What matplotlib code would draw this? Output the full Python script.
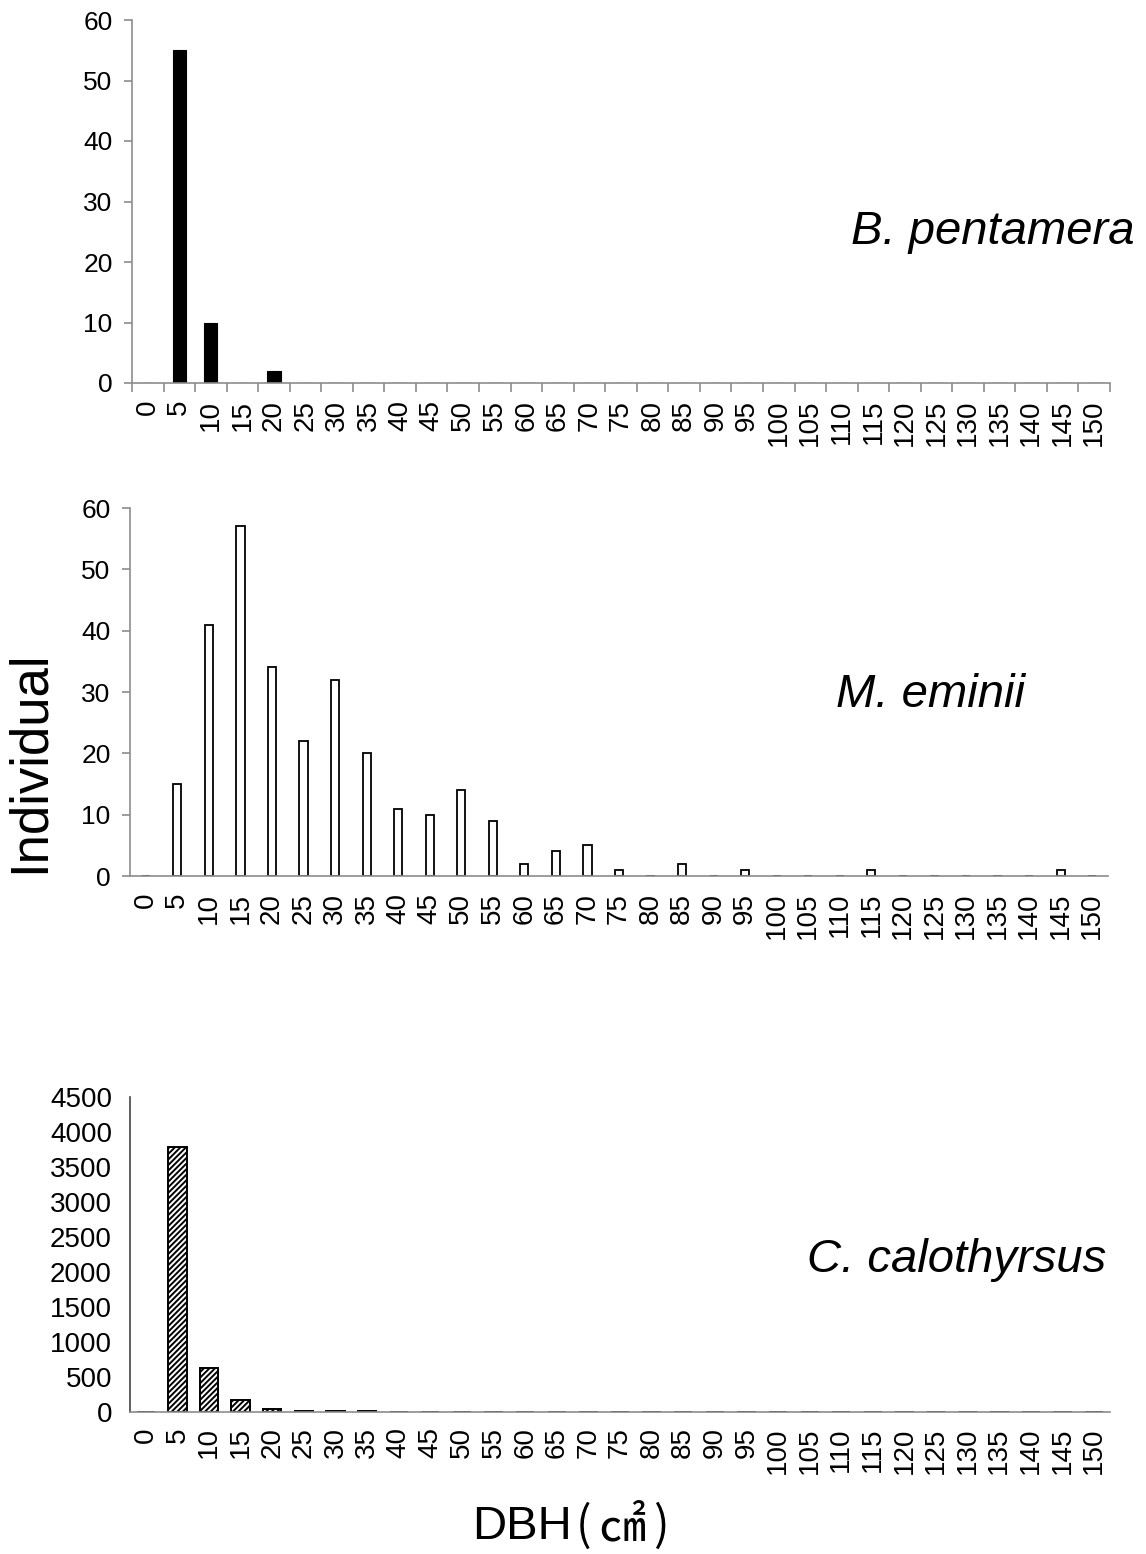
import matplotlib
matplotlib.use("Agg")
import matplotlib.pyplot as plt
import numpy as np

plt.rcParams['font.family'] = ['Liberation Sans', 'DejaVu Sans']
plt.rcParams['hatch.linewidth'] = 1.4

# DBH classes (cm)
dbh_classes = list(range(0, 155, 5))

# Number of individuals per DBH class
b_pentamera = {5: 55, 10: 10, 20: 2}
m_eminii = {5: 15, 10: 41, 15: 57, 20: 34, 25: 22, 30: 32, 35: 20, 40: 11,
            45: 10, 50: 14, 55: 9, 60: 2, 65: 4, 70: 5, 75: 1, 85: 2,
            95: 1, 115: 1, 145: 1}
c_calothyrsus = {5: 3790, 10: 630, 15: 170, 20: 40, 25: 10, 30: 10, 35: 10}

species_names = ["B. pentamera", "M. eminii", "C. calothyrsus"]


def counts(d):
    return [d.get(c, 0) for c in dbh_classes]


W, H = 1146, 1554
fig = plt.figure(figsize=(W / 100, H / 100), dpi=100)


def frac(left, top, right, bottom):
    return [left / W, 1 - bottom / H, (right - left) / W, (bottom - top) / H]


ax1 = fig.add_axes(frac(132, 20, 1110, 383))
ax2 = fig.add_axes(frac(130, 508, 1108, 876))
ax3 = fig.add_axes(frac(130, 1097, 1110, 1412))

x = np.arange(len(dbh_classes))

ax1.bar(x, counts(b_pentamera), width=0.42, color='black', edgecolor='black', linewidth=0.8)
ax2.bar(x, counts(m_eminii), width=0.26, color='white', edgecolor='black', linewidth=1.3)
ax3.bar(x, counts(c_calothyrsus), width=0.58, color='white', edgecolor='black',
        linewidth=1.4, hatch='//////')

gray = '#8c8c8c'
for ax, ymax, ystep in [(ax1, 60, 10), (ax2, 60, 10), (ax3, 4500, 500)]:
    ax.set_xlim(-0.5, len(dbh_classes) - 0.5)
    ax.set_ylim(0, ymax)
    ax.set_yticks(np.arange(0, ymax + 1, ystep))
    ax.set_xticks(x)
    ax.set_xticklabels([str(c) for c in dbh_classes], rotation=90, va='top')
    for s in ['top', 'right']:
        ax.spines[s].set_visible(False)
    ax.spines['left'].set_color(gray)
    ax.spines['bottom'].set_color(gray)
    ax.spines['left'].set_linewidth(1.2)
    ax.spines['bottom'].set_linewidth(1.2)
    ax.tick_params(axis='x', length=0, pad=12, labelsize=20, colors='black')
    ax.tick_params(axis='y', length=6, width=1.2, color=gray, pad=8, labelsize=19)

# Boundary tick marks on the first panel's category axis
ax1.set_xticks(list(x[:-1] + 0.5) + [-0.5, len(dbh_classes) - 0.5], minor=True)
ax1.tick_params(axis='x', which='minor', length=6.5, width=1.2, color=gray)

# Third panel: darker value axis without tick marks
ax3.spines['left'].set_color('#444444')
ax3.tick_params(axis='y', length=0, pad=13, labelsize=20)
ax3.tick_params(axis='x', pad=11)

label_font = dict(fontsize=34, style='italic')
fig.text(851 / W, 1 - 232 / H, species_names[0], ha='left', va='center', **label_font)
fig.text(836 / W, 1 - 695 / H, species_names[1], ha='left', va='center', **label_font)
fig.text(807 / W, 1 - 1260 / H, species_names[2], ha='left', va='center', **label_font)

fig.text(30 / W, 1 - 762 / H, "Individual", rotation=90, ha='center', va='center', fontsize=38)

# Axis title: "DBH" followed by the unit in parentheses, set piece by piece
cjk = ['Noto Sans CJK JP', 'DejaVu Sans']
dbh = fig.text(472 / W, 1 - 1527 / H, "DBH", ha='left', va='center', fontsize=34)
lp = fig.add_artist(plt.Annotation("(", xy=(1, 0.5), xycoords=dbh, xytext=(3, 0),
                                   textcoords='offset points', ha='left', va='center',
                                   fontsize=33, family=cjk))
unit = fig.add_artist(plt.Annotation("㎠", xy=(1, 0.5), xycoords=lp, xytext=(5, 0),
                                     textcoords='offset points', ha='left', va='center',
                                     fontsize=34, family=cjk))
fig.add_artist(plt.Annotation(")", xy=(1, 0.5), xycoords=unit, xytext=(5, 0),
                              textcoords='offset points', ha='left', va='center',
                              fontsize=33, family=cjk))

fig.savefig("out.png", dpi=100)
